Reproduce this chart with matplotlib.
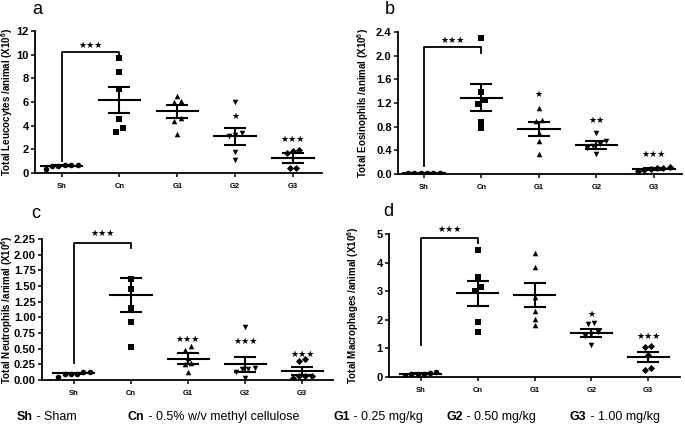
import numpy as np
import matplotlib
matplotlib.use('Agg')
import matplotlib.pyplot as plt

plt.rcParams['font.family'] = ['Liberation Sans', 'DejaVu Sans']
plt.rcParams['mathtext.fontset'] = 'custom'
plt.rcParams['mathtext.rm'] = 'Liberation Sans:bold'
plt.rcParams['mathtext.default'] = 'rm'

## Data

groups = ['Sh', 'Cn', 'G1', 'G2', 'G3']
markers = ['o', 's', '^', 'v', 'D']

# panel a - leucocytes
sh_a = [0.65, 0.60, 0.34, 0.68, 0.62, 0.65]
cn_a = [9.69, 8.51, 7.08, 4.58, 3.79, 3.43]
g1_a = [6.49, 6.04, 6.07, 4.69, 4.41, 3.29]
g2_a = [6.01, 3.23, 3.15, 3.37, 1.77, 1.12]
g3_a = [1.83, 1.69, 1.97, 0.45, 0.45]
means_a = [0.62, 6.18, 5.22, 3.09, 1.26]
sems_a = [0.05, 1.08, 0.53, 0.70, 0.42]
stars_a = ['', '', '', '*', '***']
stars_y_a = [0, 0, 0, 4.78, 2.81]
bracket_a = [0.98, 10.2, 9.83, 10.8]   # sh bottom, top, cn bottom, label y

# panel b - eosinophils
sh_b = [0.01, 0.01, 0.01, 0.01, 0.01, 0.012]
cn_b = [2.30, 1.39, 1.25, 1.18, 0.88, 0.78]
g1_b = [1.12, 0.92, 0.90, 0.70, 0.56, 0.34]
g2_b = [0.70, 0.55, 0.50, 0.47, 0.44, 0.33]
g3_b = [0.12, 0.10, 0.10, 0.08, 0.06, 0.05]
means_b = [0.01, 1.29, 0.76, 0.49, 0.085]
sems_b = [0.003, 0.225, 0.125, 0.065, 0.012]
stars_b = ['', '', '*', '**', '***']
stars_y_b = [0, 0, 1.35, 0.91, 0.33]
bracket_b = [0.14, 2.14, 2.05, 2.26]

# panel c - neutrophils
sh_c = [0.10, 0.12, 0.05, 0.13, 0.10, 0.10]
cn_c = [1.61, 1.45, 1.15, 0.93, 0.52]
g1_c = [0.48, 0.54, 0.35, 0.27, 0.25, 0.12]
g2_c = [0.84, 0.19, 0.13, 0.17, 0.18, 0.03]
g3_c = [0.30, 0.33, 0.07, 0.07, 0.03, 0.06]
means_c = [0.105, 1.35, 0.34, 0.25, 0.145]
sems_c = [0.012, 0.27, 0.085, 0.12, 0.06]
stars_c = ['', '', '***', '***', '***']
stars_y_c = [0, 0, 0.65, 0.62, 0.41]
bracket_c = [0.27, 2.18, 2.11, 2.34]

# panel d - macrophages
sh_d = [0.12, 0.15, 0.05, 0.18, 0.12, 0.12]
cn_d = [4.45, 3.48, 3.13, 3.00, 1.93, 1.57]
g1_d = [4.33, 3.84, 2.78, 2.31, 2.03, 1.81]
g2_d = [1.85, 1.90, 1.58, 1.50, 1.45, 1.11]
g3_d = [1.04, 1.08, 0.78, 0.32, 0.23]
means_d = [0.12, 2.93, 2.87, 1.55, 0.69]
sems_d = [0.02, 0.43, 0.41, 0.14, 0.17]
stars_d = ['', '', '', '*', '***']
stars_y_d = [0, 0, 0, 2.19, 1.43]
bracket_d = [1.11, 4.86, 4.68, 5.15]

legend_keys = ['Sh', 'Cn', 'G1', 'G2', 'G3']
legend_vals = ['Sham', '0.5% w/v methyl cellulose', '0.25 mg/kg', '0.50 mg/kg', '1.00 mg/kg']

## Functions

W, H = 685, 428


def swarm(vals, thr, step=0.11):
    vals = np.asarray(vals, float)
    order = np.argsort(vals)
    offs = np.zeros(len(vals))
    clusters = [[order[0]]]
    for k in order[1:]:
        if vals[k] - vals[clusters[-1][-1]] < thr:
            clusters[-1].append(k)
        else:
            clusters.append([k])
    for cl in clusters:
        n = len(cl)
        for i, k in enumerate(cl):
            offs[k] = (i - (n - 1) / 2) * step
    return offs


def panel(rect, data, means, sems, ylim, yticks, fmt, ylabel, stars, stars_y, bracket, xlim, letter, lab_x):
    l, t, r, b = rect
    ax = fig.add_axes([l / W, 1 - b / H, (r - l) / W, (b - t) / H])
    for i, vals in enumerate(data):
        offs = swarm(vals, 0.03 * ylim[1])
        ax.scatter(i + offs, vals, marker=markers[i], s=16 if markers[i] != 'D' else 13,
                   color='black', zorder=3, linewidths=0)
        ax.plot([i - 0.36, i + 0.36], [means[i]] * 2, color='black', lw=1.5, zorder=4)
        ax.errorbar(i, means[i], yerr=sems[i], color='black', lw=1.5, capsize=8,
                    capthick=1.5, zorder=4)
        if stars[i]:
            ax.text(i, stars_y[i], '\u2605' * len(stars[i]), ha='center', va='center',
                    fontsize=6.5, family='DejaVu Sans', clip_on=False)
    lo, top, cn_lo, ty = bracket
    ax.plot([0, 0, 1, 1], [lo, top, top, cn_lo], color='black', lw=1.3, clip_on=False)
    ax.text(0.5, ty, '\u2605\u2605\u2605', ha='center', va='center', fontsize=6.5,
            family='DejaVu Sans', clip_on=False)
    ax.set_xlim(xlim)
    ax.set_ylim(ylim)
    ax.set_yticks(yticks)
    ax.set_yticklabels([fmt % v for v in yticks], fontsize=8, fontweight='bold')
    ax.set_xticks(range(len(groups)))
    ax.set_xticklabels(groups, fontsize=5.5, fontweight='bold')
    ax.tick_params(axis='both', width=1.1, length=3, pad=1.5)
    ax.tick_params(axis='x', pad=4)
    for s in ['top', 'right']:
        ax.spines[s].set_visible(False)
    for s in ['left', 'bottom']:
        ax.spines[s].set_linewidth(1.3)
    ax.set_ylabel(ylabel, fontsize=7, fontweight='bold')
    # label x is its right edge (bottom of the rotated text)
    ax.yaxis.set_label_coords((lab_x - l) / (r - l), 0.5)
    fig.text(letter[0] / W, 1 - letter[1] / H, letter[2], fontsize=13, ha='center', va='center')
    return ax

## Plot

fig = plt.figure(figsize=(W / 100, H / 100), dpi=100)

panel((35, 31, 322, 173), [sh_a, cn_a, g1_a, g2_a, g3_a], means_a, sems_a, (0, 12),
      np.arange(0, 13, 2), '%d', 'Total Leucocytes /animal (X10$^6$)',
      stars_a, stars_y_a, bracket_a, (-0.46, 4.5), (37, 9, 'a'), 15)
panel((398, 32, 682, 174), [sh_b, cn_b, g1_b, g2_b, g3_b], means_b, sems_b, (0, 2.4),
      np.arange(0, 2.41, 0.4), '%.1f', 'Total Eosinophils /animal (X10$^6$)',
      stars_b, stars_y_b, bracket_b, (-0.45, 4.49), (390, 9, 'b'), 371)
panel((42, 239, 333, 380), [sh_c, cn_c, g1_c, g2_c, g3_c], means_c, sems_c, (0, 2.25),
      np.arange(0, 2.26, 0.25), '%.2f', 'Total Neutrophils /animal (X10$^6$)',
      stars_c, stars_y_c, bracket_c, (-0.56, 4.54), (36, 214, 'c'), 15)
panel((389, 234, 680, 377), [sh_d, cn_d, g1_d, g2_d, g3_d], means_d, sems_d, (0, 5),
      np.arange(0, 6, 1), '%d', 'Total Macrophages /animal (X10$^6$)',
      stars_d, stars_y_d, bracket_d, (-0.56, 4.56), (388, 212, 'd'), 361)

# bottom key
renderer = fig.canvas.get_renderer()
key_x = [17, 128, 333, 447, 570]
for x, k, v in zip(key_x, legend_keys, legend_vals):
    t1 = fig.text(x / W, 1 - 417 / H, k, fontsize=9, fontweight='bold', va='center')
    bb = t1.get_window_extent(renderer)
    fig.text(bb.x1 / W, 1 - 417 / H, ' - ' + v, fontsize=9, va='center')

fig.savefig('out.png', dpi=100)
